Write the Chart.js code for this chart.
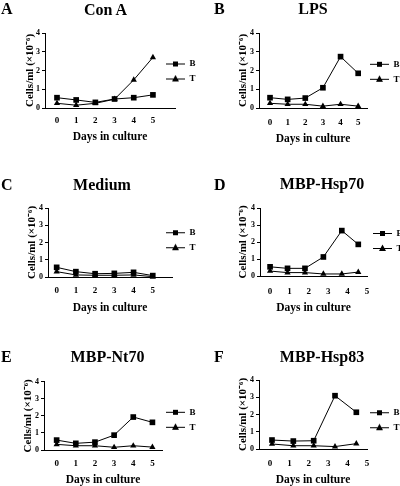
<!DOCTYPE html>
<html>
<head>
<meta charset="utf-8">
<script src="https://cdn.jsdelivr.net/npm/chart.js@4.4.1/dist/chart.umd.min.js"></script>
<style>
html, body { margin: 0; padding: 0; background: #fff; overflow: hidden; }
#wrap { position: relative; width: 400px; height: 486px; }
#wrap canvas { position: absolute; }
.txt { position: absolute; font-family: "Liberation Serif", "Times New Roman", serif; font-weight: bold;
       color: #000; line-height: 1; white-space: nowrap; font-size: 16px; }
.letter { transform: translate(0, -50%); }
.title { transform: translate(-50%, -50%); }
</style>
</head>
<body>
<div id="wrap"></div>
<script>
// ---- data ----
const dayTicks = [0, 1, 2, 3, 4, 5];
const yTicks = [0, 1, 2, 3, 4];
const seriesNames = ['B', 'T'];

const daysConA = [0, 1, 2, 3, 4, 5];
const bConA = [0.55, 0.43, 0.30, 0.48, 0.55, 0.70];
const tConA = [0.25, 0.15, 0.25, 0.47, 1.50, 2.70];

const daysLPS = [0, 1, 2, 3, 4, 5];
const bLPS = [0.55, 0.46, 0.53, 1.08, 2.74, 1.85];
const tLPS = [0.25, 0.20, 0.20, 0.10, 0.20, 0.10];

const daysMedium = [0, 1, 2, 3, 4, 5];
const bMedium = [0.56, 0.31, 0.19, 0.21, 0.27, 0.08];
const tMedium = [0.31, 0.12, 0.10, 0.10, 0.12, 0.02];

const daysHsp70 = [0, 0.9, 1.8, 2.75, 3.7, 4.55];
const bHsp70 = [0.54, 0.45, 0.45, 1.12, 2.67, 1.86];
const tHsp70 = [0.29, 0.20, 0.20, 0.12, 0.12, 0.23];

const daysNt70 = [0, 1, 2, 3, 4, 5];
const bNt70 = [0.58, 0.39, 0.46, 0.87, 1.93, 1.62];
const tNt70 = [0.33, 0.25, 0.25, 0.16, 0.25, 0.17];

const daysHsp83 = [0.1, 1.2, 2.25, 3.35, 4.45];
const bHsp83 = [0.52, 0.46, 0.48, 3.09, 2.13];
const tHsp83 = [0.29, 0.19, 0.19, 0.14, 0.31];

// ---- panel layout (page pixels) ----
const panels = [
  { letter: 'A', title: 'Con A', days: daysConA, b: bConA, t: tConA, xMin: -0.625, xMax: 6.15,
    box: [0, 0, 200, 160], area: [45, 175, 33, 108], yTitleX: 30, xTitleY: 137.3, tickY: 120.7,
    legend: [166, 64], letterPos: [1, 9], titlePos: [105.5, 10] },
  { letter: 'B', title: 'LPS', days: daysLPS, b: bLPS, t: tLPS, xMin: -0.625, xMax: 5.5,
    box: [200, 0, 200, 160], area: [259, 367, 33, 108], yTitleX: 243, xTitleY: 139.3, tickY: 122.7,
    legend: [370, 64.3], letterPos: [214, 9], titlePos: [313, 9] },
  { letter: 'C', title: 'Medium', days: daysMedium, b: bMedium, t: tMedium, xMin: -0.45, xMax: 6.0,
    box: [0, 160, 200, 165], area: [48, 172, 208, 277], yTitleX: 31.7, xTitleY: 308.3, tickY: 290.7,
    legend: [166, 232.7], letterPos: [1, 185], titlePos: [102, 185] },
  { letter: 'D', title: 'MBP-Hsp70', days: daysHsp70, b: bHsp70, t: tHsp70, xMin: -0.52, xMax: 5.0,
    box: [200, 160, 200, 165], area: [260, 367, 208, 276], yTitleX: 243, xTitleY: 308, tickY: 291.7,
    legend: [373, 233.5], letterPos: [214, 185], titlePos: [322, 184.3] },
  { letter: 'E', title: 'MBP-Nt70', days: daysNt70, b: bNt70, t: tNt70, xMin: -0.66, xMax: 5.5,
    box: [0, 325, 200, 161], area: [44, 162, 381.7, 450], yTitleX: 28.3, xTitleY: 480, tickY: 463.3,
    legend: [166, 412.3], letterPos: [1, 357], titlePos: [107.5, 357] },
  { letter: 'F', title: 'MBP-Hsp83', days: daysHsp83, b: bHsp83, t: tHsp83, xMin: -0.57, xMax: 5.0,
    box: [200, 325, 200, 161], area: [259, 367, 380, 449], yTitleX: 242.7, xTitleY: 480, tickY: 463.3,
    legend: [370, 412.7], letterPos: [214, 357], titlePos: [322, 357.3] }
];

const SERIF = '"Liberation Serif", "Times New Roman", serif';
const LEGEND_FONT = 9;

// legend swatches: short line with the marker in the middle
function makeIcon(kind) {
  const c = document.createElement('canvas');
  c.width = 19; c.height = 9;
  const g = c.getContext('2d');
  g.fillStyle = '#000';
  g.fillRect(0, 4, 19, 1);
  if (kind === 'rect') {
    g.fillRect(7, 2, 5, 5);
  } else {
    g.beginPath();
    g.moveTo(9.5, 0.5); g.lineTo(13, 7); g.lineTo(6, 7); g.closePath();
    g.fill();
  }
  return c;
}
const legendIcons = [makeIcon('rect'), makeIcon('triangle')];

// put the legend where it sits in the figure (it overlaps the x-axis extent)
const legendPlace = {
  id: 'legendPlace',
  afterLayout(chart, args, opts) {
    const lg = chart.legend;
    if (!lg || !lg.columnSizes || !lg.columnSizes.length) return;
    const pad = lg.options.labels.padding;
    const colH = lg.columnSizes[0].height;
    const curY = (lg.top + pad + lg.bottom - colH) / 2;
    const dx = opts.x - (lg.left + pad);
    const dy = opts.y - LEGEND_FONT / 2 - curY;
    lg.left += dx; lg.top += dy; lg.bottom += dy;
    lg.right = chart.width;   // keep the label text inside the legend clip
  }
};

const wrap = document.getElementById('wrap');

panels.forEach(p => {
  const [bx, by, w, h] = p.box;
  const L = p.area[0] - bx, R = p.area[1] - bx, T = p.area[2] - by, B = p.area[3] - by;

  const cv = document.createElement('canvas');
  cv.width = w; cv.height = h;
  cv.style.left = bx + 'px'; cv.style.top = by + 'px';
  cv.style.width = w + 'px'; cv.style.height = h + 'px';
  wrap.appendChild(cv);

  const lt = document.createElement('div');
  lt.className = 'txt letter';
  lt.textContent = p.letter;
  lt.style.left = p.letterPos[0] + 'px'; lt.style.top = p.letterPos[1] + 'px';
  wrap.appendChild(lt);

  const tt = document.createElement('div');
  tt.className = 'txt title';
  tt.textContent = p.title;
  tt.style.left = p.titlePos[0] + 'px'; tt.style.top = p.titlePos[1] + 'px';
  wrap.appendChild(tt);

  const yTitleSize = 11, xTitleSize = 11.5, xTickSize = 9;

  new Chart(cv.getContext('2d'), {
    type: 'line',
    data: {
      datasets: [
        { label: seriesNames[0], data: p.days.map((d, i) => ({ x: d, y: p.b[i] })),
          borderColor: '#000', backgroundColor: '#000', borderWidth: 1,
          pointStyle: 'rect', pointRadius: 4, pointBorderWidth: 0, tension: 0, clip: false },
        { label: seriesNames[1], data: p.days.map((d, i) => ({ x: d, y: p.t[i] })),
          borderColor: '#000', backgroundColor: '#000', borderWidth: 1,
          pointStyle: 'triangle', pointRadius: 3.6, pointBorderWidth: 0, tension: 0, clip: false }
      ]
    },
    options: {
      responsive: false,
      animation: false,
      devicePixelRatio: 1,
      layout: { padding: { left: 0, right: 0, top: T, bottom: 0 } },
      plugins: {
        title: { display: false },
        tooltip: { enabled: false },
        legend: {
          position: 'right',
          maxWidth: w - R,
          labels: {
            usePointStyle: true,
            pointStyleWidth: 19,
            padding: 6,
            color: '#000',
            font: { family: SERIF, weight: 'bold', size: LEGEND_FONT },
            generateLabels(chart) {
              const items = Chart.defaults.plugins.legend.labels.generateLabels(chart);
              items.forEach((it, i) => { it.pointStyle = legendIcons[i]; });
              return items;
            }
          }
        },
        legendPlace: { x: p.legend[0] - bx, y: p.legend[1] - by }
      },
      scales: {
        x: {
          type: 'linear',
          min: p.xMin, max: p.xMax,
          afterBuildTicks: s => { s.ticks = dayTicks.map(v => ({ value: v })); },
          afterFit: s => { s.height = h - B; },
          grid: { display: false, drawTicks: false },
          border: { display: true, color: '#000', width: 1 },
          ticks: { color: '#000', autoSkip: false, maxRotation: 0,
                   padding: p.tickY - p.area[3] - xTickSize * 0.6,
                   font: { family: SERIF, weight: 'bold', size: xTickSize } },
          title: { display: true, text: 'Days in culture', color: '#000',
                   font: { family: SERIF, weight: 'bold', size: xTitleSize },
                   padding: { top: 0, bottom: h - (p.xTitleY - by) - xTitleSize * 0.6 } }
        },
        y: {
          min: 0, max: 4,
          afterBuildTicks: s => { s.ticks = yTicks.map(v => ({ value: v })); },
          afterFit: s => { s.width = L; },
          grid: { display: true, drawOnChartArea: false, drawTicks: true, tickLength: 3, color: '#000' },
          border: { display: true, color: '#000', width: 1 },
          ticks: { color: '#000', padding: 2, font: { family: SERIF, weight: 'bold', size: 8 } },
          title: { display: true, text: 'Cells/ml (×10⁻⁶)', color: '#000',
                   font: { family: SERIF, weight: 'bold', size: yTitleSize },
                   padding: { top: (p.yTitleX - bx) - yTitleSize * 0.6, bottom: 0 } }
        }
      }
    },
    plugins: [legendPlace]
  });
});
</script>
</body>
</html>
